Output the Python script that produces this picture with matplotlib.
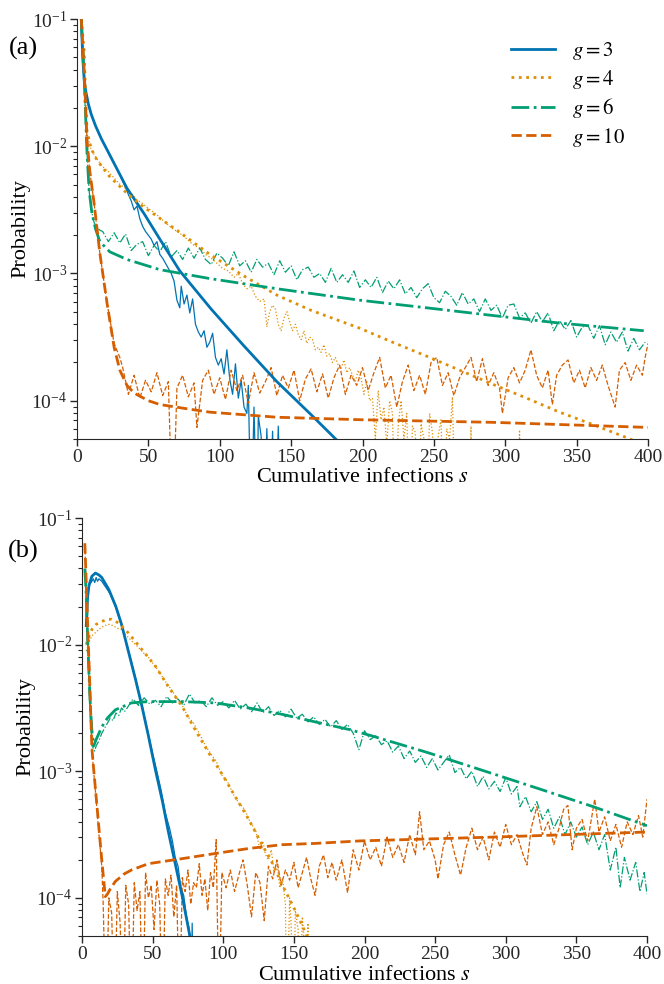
import numpy as np
import matplotlib
matplotlib.use("Agg")
import matplotlib.pyplot as plt
from matplotlib.ticker import LogLocator, NullFormatter

plt.rcParams.update({
    "font.family": ["serif"],
    "font.serif": ["Liberation Serif", "DejaVu Serif"],
    "mathtext.fontset": "stix",
    "axes.edgecolor": "#262626",
    "xtick.color": "#262626",
    "ytick.color": "#262626",
})

# ---------------- data (log10 probability) ----------------
G_LABELS = ["$g = 3$", "$g = 4$", "$g = 6$", "$g = 10$"]
COLORS = ["#0173b2", "#de8f05", "#029e73", "#d55e00"]
STYLES = ["-", ":", "-.", "--"]

# panel (a) theory
A_G3_TH = [(3, -1.0), (4, -1.3), (5, -1.47), (6, -1.56), (8, -1.67), (10, -1.75), (13, -1.84), (17, -1.94),
           (23, -2.07), (29, -2.2), (35, -2.33), (47, -2.53), (58, -2.73), (72, -2.98), (94, -3.28),
           (117, -3.57), (140, -3.85), (164, -4.11), (182, -4.31)]
A_G4_TH = [(3, -1.0), (5, -1.25), (6, -1.6), (7, -1.88), (10, -2.02), (14, -2.11), (23, -2.24), (35, -2.37),
           (47, -2.48), (70, -2.66), (93, -2.85), (117, -3.02), (140, -3.17), (164, -3.29), (198, -3.43),
           (221, -3.54), (245, -3.65), (268, -3.76), (291, -3.87), (315, -3.98), (338, -4.09), (362, -4.19),
           (385, -4.29), (400, -4.36)]
A_G6_TH = [(3, -1.0), (5, -1.45), (7, -2.05), (8.5, -2.35), (10.5, -2.53), (13, -2.65), (16, -2.75), (23, -2.83),
           (35, -2.89), (58, -2.97), (93, -3.04), (140, -3.12), (198, -3.21), (245, -3.27), (291, -3.33),
           (338, -3.39), (397, -3.45)]
A_G10_TH = [(3, -1.0), (5, -1.4), (7, -1.95), (9, -2.2), (12, -2.45), (16, -2.84), (21, -3.23), (26, -3.58),
            (30, -3.76), (35, -3.88), (40, -3.94), (50, -4.0), (58, -4.03), (75, -4.06), (93, -4.09),
            (140, -4.13), (200, -4.15), (291, -4.17), (400, -4.21)]

# panel (a) simulation
A_G3_SIM = [(3, -1.0), (4, -1.3), (5, -1.47), (6, -1.56), (8, -1.67), (10, -1.75), (13, -1.84), (17, -1.94),
            (23, -2.07), (29, -2.2), (35, -2.35), (36, -2.38), (38, -2.43), (40, -2.50), (42, -2.47),
            (44, -2.57), (46, -2.63),
            (48, -2.67), (50, -2.70), (52, -2.73), (54, -2.78), (56, -2.75), (58, -2.85), (60, -2.88),
            (62, -2.92), (64, -2.96), (66, -3.00), (68, -3.06), (70, -3.21), (72, -3.27), (73, -3.10),
            (75, -3.24), (77, -3.17), (79, -3.31), (81, -3.20), (83, -3.40), (85, -3.46), (87, -3.50),
            (89, -3.45), (91, -3.58), (93, -3.54), (95, -3.47), (97, -3.66), (99, -3.72), (101, -3.67),
            (103, -3.79), (105, -3.60), (107, -3.83), (109, -3.95), (111, -3.71), (113, -3.98), (115, -3.84),
            (117, -4.05), (119, -4.10), (120, -3.88), (122, -5), (124, -4.05), (126, -5), (127, -4.12),
            (129, -4.28), (131, -5), (133, -4.22), (135, -5), (137, -4.24), (139, -5), (141, -4.20), (143, -5)]
A_G4_SIM = [(3, -1.0), (5, -1.3), (7, -1.9), (10, -2.03), (14, -2.1), (18, -2.16), (22, -2.2), (26, -2.25),
            (30, -2.3), (34, -2.33), (38, -2.37), (42, -2.42), (46, -2.45), (50, -2.49), (54, -2.52),
            (58, -2.56), (62, -2.60), (66, -2.64), (70, -2.67), (74, -2.70), (78, -2.74), (82, -2.78),
            (86, -2.80), (90, -2.85), (94, -2.88), (98, -2.92), (102, -2.96), (106, -2.98), (110, -3.03),
            (113, -3.0), (116, -3.08), (119, -3.12), (122, -3.10), (125, -3.18), (128, -3.22), (131, -3.20),
            (133, -3.42), (135, -3.30), (137, -3.25), (139, -3.28), (141, -3.40), (143, -3.45), (145, -3.35),
            (147, -3.30), (149, -3.38), (151, -3.45), (153, -3.40), (155, -3.48), (157, -3.52), (159, -3.45),
            (161, -3.55), (163, -3.50), (165, -3.52), (167, -3.60), (169, -3.58), (171, -3.62), (173, -3.56),
            (175, -3.65), (177, -3.63), (179, -3.70), (181, -3.66), (183, -3.72), (185, -3.75), (187, -3.68),
            (189, -3.78), (191, -3.74), (193, -3.80), (195, -3.85), (197, -3.76), (199, -3.82), (201, -3.95),
            (203, -3.85), (205, -4.0), (207, -3.98), (209, -4.3), (211, -3.92), (213, -4.15), (215, -4.05),
            (217, -4.35), (219, -4.0), (221, -4.1), (223, -5), (225, -4.2), (227, -4.0), (229, -4.3),
            (231, -4.1), (233, -5), (235, -4.2), (237, -4.25), (239, -5), (241, -4.18), (243, -4.3), (245, -5),
            (247, -4.1), (249, -4.25), (251, -5), (253, -4.28), (255, -4.15), (257, -5), (259, -4.22),
            (261, -4.3), (263, -3.97), (265, -5), (275, -5), (276, -4.2), (277, -5), (309, -5), (310, -4.23),
            (311, -5)]
A_G6_SIM = [(3, -1.0), (5, -1.5), (7, -2.05), (8.5, -2.35), (10, -2.5), (12, -2.6), (14, -2.64), (16, -2.66),
            (18, -2.67), (22, -2.75), (26, -2.68), (30, -2.76), (34, -2.69), (38, -2.82), (42, -2.77),
            (46, -2.75), (50, -2.86), (54, -2.78), (58, -2.83), (62, -2.75), (66, -2.87), (70, -2.82),
            (74, -2.89), (78, -2.80), (82, -2.88), (86, -2.80), (90, -2.89), (94, -2.93), (98, -2.84),
            (102, -2.88), (106, -2.94), (110, -2.83), (114, -2.94), (118, -2.90), (122, -2.99), (126, -2.89),
            (130, -2.95), (134, -2.92), (138, -3.01), (142, -2.90), (146, -2.99), (150, -2.94), (154, -3.05),
            (158, -2.97), (162, -2.95), (166, -3.03), (170, -3.00), (174, -3.07), (178, -2.96), (182, -3.07),
            (186, -3.01), (190, -3.07), (194, -2.98), (198, -3.11), (202, -3.05), (206, -3.11), (210, -3.03),
            (214, -3.15), (218, -3.06), (222, -3.12), (226, -3.05), (230, -3.16), (234, -3.11), (238, -3.19),
            (242, -3.12), (246, -3.08), (250, -3.19), (254, -3.23), (258, -3.14), (262, -3.18), (266, -3.25),
            (270, -3.15), (274, -3.24), (278, -3.20), (282, -3.30), (286, -3.20), (290, -3.29), (294, -3.25),
            (298, -3.35), (302, -3.25), (306, -3.24), (310, -3.35), (314, -3.31), (318, -3.39), (322, -3.30),
            (326, -3.38), (330, -3.31), (334, -3.45), (338, -3.37), (342, -3.44), (346, -3.37), (350, -3.50),
            (354, -3.42), (358, -3.41), (362, -3.51), (366, -3.41), (370, -3.56), (374, -3.46), (378, -3.54),
            (382, -3.46), (386, -3.61), (390, -3.51), (394, -3.60), (398, -3.54)]
A_G10_SIM = [(3, -1.0), (5, -1.4), (7, -1.95), (9, -2.2), (12, -2.45), (16, -2.84), (21, -3.23), (26, -3.55),
             (30, -3.66), (32, -3.74), (36, -3.95), (40, -3.80), (44, -3.98), (48, -3.84), (52, -3.93),
             (56, -3.78), (60, -3.96), (64, -3.85), (67, -5), (70, -3.90), (74, -3.80), (78, -3.97), (82, -3.86),
             (84, -4.21), (88, -3.84), (92, -3.76), (96, -3.95), (100, -3.82), (104, -3.99), (108, -3.76),
             (112, -3.92), (116, -3.80), (120, -4.02), (124, -3.78), (128, -3.94), (132, -3.85), (136, -3.74),
             (140, -3.96), (144, -3.80), (148, -3.90), (152, -3.76), (156, -4.00), (160, -3.83), (164, -3.75),
             (168, -3.93), (172, -3.79), (176, -3.98), (180, -3.82), (184, -3.72), (188, -3.95), (192, -3.80),
             (196, -3.88), (200, -3.74), (204, -3.92), (208, -3.78), (212, -3.66), (216, -3.90), (220, -3.80),
             (224, -4.05), (228, -3.85), (232, -3.72), (236, -3.92), (240, -3.80), (244, -3.95), (248, -3.70),
             (252, -3.66), (256, -3.88), (260, -3.78), (264, -3.96), (268, -3.82), (272, -3.74), (276, -3.66),
             (280, -3.85), (284, -3.67), (288, -3.88), (292, -3.78), (296, -3.90), (298, -4.10), (302, -3.82),
             (306, -3.74), (310, -3.86), (314, -3.76), (318, -3.60), (322, -3.80), (326, -3.90), (330, -3.76),
             (333, -4.03), (336, -3.80), (340, -3.72), (344, -3.68), (348, -3.86), (352, -3.76), (356, -3.90),
             (360, -3.74), (364, -3.84), (368, -3.72), (372, -3.88), (377, -4.05), (380, -3.76), (384, -3.70),
             (388, -3.84), (392, -3.72), (396, -3.80), (398, -3.66), (400, -3.55)]

# panel (b) theory
B_G3_TH = [(3, -1.85), (4, -1.62), (5, -1.53), (7, -1.46), (9.5, -1.435), (12, -1.45), (14, -1.47), (19, -1.565),
           (24, -1.70), (28, -1.84), (33, -2.06), (38, -2.28), (42.5, -2.49), (47, -2.72), (52, -2.99),
           (57, -3.24), (61, -3.47), (66, -3.73), (71, -3.99), (76, -4.28), (78, -4.4)]
B_G4_TH = [(3, -2.0), (5, -1.93), (7, -1.88), (10, -1.84), (14, -1.817), (18, -1.80), (21, -1.80), (26, -1.83),
           (33, -1.91), (42.5, -2.04), (52, -2.17), (61, -2.33), (71, -2.49), (80, -2.67), (90, -2.86),
           (99, -3.02), (108.5, -3.20), (118, -3.38), (127, -3.57), (135, -3.73), (141.5, -3.89), (151, -4.10),
           (156, -4.22), (160, -4.32)]
B_G6_TH = [(2, -1.4), (3, -1.6), (4, -1.95), (5, -2.25), (6, -2.5), (7, -2.68), (8.3, -2.80), (10, -2.75),
           (14, -2.65), (18, -2.58), (23.6, -2.515), (35, -2.46), (47, -2.45), (71, -2.45), (94, -2.46),
           (118, -2.50), (141.5, -2.55), (165, -2.61), (189, -2.67), (205, -2.72), (244, -2.85), (291, -3.02),
           (324, -3.14), (362, -3.28), (400, -3.43)]
B_G10_TH = [(2, -1.2), (3, -1.5), (4, -1.85), (5, -2.15), (7, -2.82), (8, -2.95), (10, -3.2), (12, -3.45),
            (14, -3.7), (16.5, -3.99), (18, -3.97), (20, -3.93), (23.6, -3.87), (30, -3.81), (35, -3.78),
            (47, -3.73), (71, -3.69), (94, -3.65), (118, -3.61), (141.5, -3.58), (165, -3.57), (197, -3.55),
            (291, -3.52), (400, -3.48)]

# panel (b) simulation
B_G3_SIM = [(3, -1.85), (4, -1.6), (5, -1.53), (7, -1.50), (8, -1.48), (9, -1.51), (10, -1.47), (11, -1.50),
            (12, -1.48), (14, -1.50), (17, -1.55), (20, -1.60), (24, -1.71), (28, -1.85), (33, -2.05),
            (38, -2.27), (42, -2.46), (46, -2.66), (50, -2.86), (53, -3.0), (56, -3.15), (59, -3.33),
            (62, -3.45), (64, -3.55), (66, -3.68), (68, -3.75), (70, -3.92), (72, -3.98), (74, -4.15),
            (76, -4.25), (77, -5), (78, -4.2), (79, -5)]
B_G4_SIM = [(3, -2.05), (5, -1.98), (7, -1.93), (10, -1.90), (13, -1.87), (16, -1.85), (19, -1.84), (22, -1.85),
            (25, -1.87), (28, -1.88), (31, -1.92), (35, -1.97), (39, -2.01), (43, -2.06), (47, -2.10),
            (51, -2.16), (55, -2.22), (59, -2.29), (63, -2.35), (67, -2.42), (71, -2.48), (75, -2.57),
            (79, -2.62), (83, -2.70), (87, -2.79), (91, -2.86), (95, -2.92), (99, -3.03), (103, -3.08),
            (107, -3.18), (111, -3.25), (115, -3.30), (119, -3.40), (123, -3.47), (126, -3.62), (128, -3.55),
            (130, -3.66), (132, -3.70), (134, -3.62), (136, -3.80), (138, -3.72), (140, -3.92), (142, -3.85),
            (144, -4.05), (145, -5), (147, -4.0), (148, -4.2), (150, -5), (151, -4.1), (153, -4.25), (154, -5),
            (156, -4.15), (157, -4.3), (158, -5), (160, -4.2), (161, -5)]
B_G6_SIM = [(2, -1.4), (3, -1.65), (4, -2.0), (5, -2.35), (6, -2.6), (7, -2.75), (8, -2.83), (9, -2.84),
            (10, -2.80), (12, -2.76), (14, -2.70), (16, -2.66), (18, -2.62), (20, -2.58), (22, -2.60),
            (24, -2.54), (26, -2.56), (28, -2.50), (30, -2.53), (32, -2.50), (36, -2.43), (40, -2.48),
            (44, -2.42), (48, -2.47), (52, -2.44), (56, -2.49), (60, -2.41), (64, -2.46), (68, -2.43),
            (72, -2.48), (76, -2.39), (80, -2.46), (84, -2.44), (88, -2.49), (92, -2.42), (96, -2.48),
            (100, -2.45), (104, -2.50), (108, -2.44), (112, -2.51), (116, -2.47), (120, -2.53), (124, -2.46),
            (128, -2.54), (132, -2.49), (136, -2.56), (140, -2.52), (144, -2.57), (148, -2.51), (152, -2.58),
            (156, -2.55), (160, -2.61), (164, -2.57), (168, -2.63), (172, -2.59), (176, -2.65), (180, -2.60),
            (184, -2.67), (188, -2.63), (192, -2.70), (196, -2.83), (200, -2.68), (204, -2.75), (208, -2.72),
            (212, -2.79), (216, -2.76), (220, -2.85), (224, -2.80), (228, -2.90), (232, -2.84), (236, -2.93),
            (240, -2.88), (244, -2.97), (248, -2.90), (252, -2.99), (256, -2.93), (260, -2.87), (264, -3.01),
            (268, -2.97), (272, -3.06), (276, -3.00), (280, -3.12), (284, -3.04), (288, -3.14), (292, -3.08),
            (296, -3.16), (300, -3.05), (304, -3.18), (308, -3.12), (310, -3.28), (314, -3.20), (318, -3.32),
            (322, -3.24), (326, -3.38), (330, -3.30), (334, -3.45), (338, -3.36), (342, -3.50), (346, -3.40),
            (350, -3.52), (354, -3.44), (358, -3.58), (362, -3.48), (366, -3.62), (370, -3.50), (374, -3.78),
            (378, -3.60), (381, -3.92), (384, -3.68), (388, -3.86), (392, -3.72), (395, -3.95), (398, -3.80),
            (400, -3.97)]
B_G10_SIM = [(2, -1.2), (3, -1.55), (4, -1.9), (5, -2.15), (7, -2.82), (8, -2.97), (10, -3.22), (12, -3.5),
             (14, -3.75), (15, -4.05), (17, -5), (19, -4.0), (21, -4.12), (23, -5), (25, -3.95), (27, -4.2),
             (29, -5), (31, -3.90), (33, -4.05), (35, -5), (37, -3.88), (39, -4.1), (41, -3.95), (43, -5),
             (45, -3.80), (47, -4.0), (49, -3.90), (51, -4.25), (53, -3.86), (55, -4.05), (57, -5), (59, -3.85),
             (61, -3.98), (63, -3.82), (65, -4.15), (67, -3.90), (69, -5), (71, -3.84), (73, -3.95), (75, -3.78),
             (77, -4.05), (79, -3.88), (81, -3.92), (83, -3.73), (85, -3.98), (87, -3.85), (89, -4.1),
             (91, -3.80), (93, -3.92), (95, -3.54), (97, -5), (99, -3.80), (102, -3.92), (105, -3.78),
             (108, -3.95), (111, -3.82), (114, -3.70), (117, -3.90), (120, -4.15), (123, -3.80), (126, -3.88),
             (129, -4.18), (132, -3.75), (135, -3.85), (138, -3.70), (141, -3.90), (144, -3.78), (147, -3.86),
             (150, -3.72), (153, -3.92), (156, -3.80), (159, -3.68), (162, -3.85), (165, -3.98), (168, -3.75),
             (171, -3.66), (174, -3.84), (177, -3.72), (180, -3.86), (184, -3.70), (188, -3.96), (192, -3.62),
             (196, -3.78), (200, -3.55), (204, -3.70), (208, -3.60), (212, -3.75), (216, -3.52), (220, -3.68),
             (224, -3.58), (228, -3.72), (232, -3.50), (236, -3.66), (239, -3.32), (242, -3.62), (246, -3.55),
             (250, -3.70), (252, -3.85), (256, -3.58), (260, -3.48), (264, -3.66), (268, -3.82), (272, -3.60),
             (276, -3.45), (280, -3.62), (284, -3.52), (288, -3.70), (292, -3.48), (296, -3.60), (300, -3.42),
             (304, -3.58), (308, -3.50), (312, -3.65), (315, -3.74), (318, -3.45), (322, -3.28), (326, -3.50),
             (330, -3.40), (334, -3.58), (338, -3.44), (341, -3.30), (344, -3.27), (347, -3.62), (350, -3.45),
             (354, -3.38), (358, -3.55), (363, -3.22), (366, -3.48), (370, -3.36), (374, -3.55), (378, -3.42),
             (382, -3.60), (386, -3.40), (390, -3.50), (394, -3.35), (397, -3.52), (400, -3.22)]

PANELS = [
    ("(a)", [A_G3_TH, A_G4_TH, A_G6_TH, A_G10_TH], [A_G3_SIM, A_G4_SIM, A_G6_SIM, A_G10_SIM]),
    ("(b)", [B_G3_TH, B_G4_TH, B_G6_TH, B_G10_TH], [B_G3_SIM, B_G4_SIM, B_G6_SIM, B_G10_SIM]),
]


def xy(pairs):
    s = np.array([p[0] for p in pairs], dtype=float)
    p = 10.0 ** np.array([p[1] for p in pairs], dtype=float)
    return s, p


fig = plt.figure(figsize=(6.64, 9.84), dpi=100)
axes = [
    fig.add_axes([77 / 664, 1 - 439 / 984, 571 / 664, 420 / 984]),
    fig.add_axes([82 / 664, 1 - 936 / 984, 565 / 664, 418 / 984]),
]
label_pos = [(23, 48), (23, 551)]

for ax, (tag, th, sim), (lx, ly) in zip(axes, PANELS, label_pos):
    handles = []
    for i in range(4):
        s, p = xy(sim[i])
        ax.plot(s, p, color=COLORS[i], ls=STYLES[i], lw=0.9, zorder=2)
    for i in range(4):
        s, p = xy(th[i])
        h, = ax.plot(s, p, color=COLORS[i], ls=STYLES[i], lw=2.0, zorder=3)
        handles.append(h)
    ax.set_yscale("log")
    ax.set_xlim(0, 400)
    ax.set_ylim(5e-5, 1e-1)
    ax.set_xticks(np.arange(0, 401, 50))
    ax.yaxis.set_major_locator(LogLocator(base=10, numticks=10))
    ax.yaxis.set_minor_locator(LogLocator(base=10, subs=np.arange(2, 10), numticks=20))
    ax.yaxis.set_minor_formatter(NullFormatter())
    for side in ("top", "right"):
        ax.spines[side].set_visible(False)
    ax.tick_params(axis="both", which="major", labelsize=14, length=5, width=1, direction="out", pad=2)
    ax.tick_params(axis="y", which="minor", length=3, width=0.8, direction="out")
    ax.set_xlabel("Cumulative infections $s$", fontsize=16, labelpad=2)
    ax.set_ylabel("Probability", fontsize=16, labelpad=1)
    fig.text(lx / 664, 1 - ly / 984, tag, fontsize=19, ha="center", va="center")
    if tag == "(a)":
        ax.legend(handles, G_LABELS, loc="upper right", frameon=False, fontsize=15,
                  handlelength=2.1, borderaxespad=0.3, labelspacing=0.27, bbox_to_anchor=(0.985, 0.985))

fig.savefig("out.png", dpi=100)
